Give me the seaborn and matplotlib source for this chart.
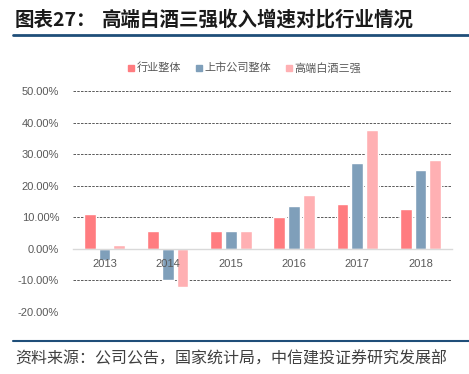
import pandas as pd
import seaborn as sns
import matplotlib.pyplot as plt
from matplotlib.lines import Line2D

years = ["2013", "2014", "2015", "2016", "2017", "2018"]
industry = [11.1, 5.5, 5.6, 10.0, 14.2, 12.7]
listed = [-3.5, -9.8, 5.7, 13.6, 27.1, 25.0]
top3 = [1.3, -12.0, 5.5, 17.0, 37.7, 28.2]
series = ["行业整体", "上市公司整体", "高端白酒三强"]
colors = ["#FF7C80", "#7F9FBA", "#FFB0B3"]

df = pd.DataFrame({"year": years * 3,
                   "value": industry + listed + top3,
                   "series": [s for s in series for _ in years]})

sns.set_style("white")
plt.rcParams['font.family'] = ['Noto Sans CJK SC', 'DejaVu Sans']

fig = plt.figure(figsize=(4.69, 3.74), dpi=100)
ax = fig.add_axes([73 / 469, 62 / 374, 379 / 469, 221 / 374])
sns.barplot(data=df, x="year", y="value", hue="series", palette=colors,
            width=0.7, gap=0.2, ax=ax, legend=False, saturation=1)

# spine first: set_position resets the tick objects
for s in ["top", "right", "left"]:
    ax.spines[s].set_visible(False)
ax.spines["bottom"].set_position(("data", 0))
ax.spines["bottom"].set_color("#D9D9D9")
ax.spines["bottom"].set_linewidth(1)

ax.set_ylim(-20, 50)
ax.set_yticks(range(-20, 51, 10))
ax.set_yticklabels([f"{v:.2f}%" for v in range(-20, 51, 10)],
                   family="Liberation Sans", fontsize=8, color="#595959")
ax.set_xticks(range(len(years)))
ax.set_xticklabels(years, family="Liberation Sans", fontsize=8, color="#595959")
ax.set_xlabel("")
ax.set_ylabel("")
ax.tick_params(length=0)
ax.tick_params(axis="x", pad=7)
ax.tick_params(axis="y", pad=10)
ax.xaxis.set_zorder(5)
for v in range(-20, 51, 10):
    if v != 0:
        ax.axhline(v, color="#404040", lw=0.6, ls=(0, (3, 1.5)), zorder=0)

handles = [Line2D([], [], marker="s", ls="", color=c, markersize=4) for c in colors]
fig.legend(handles, series, loc="center", bbox_to_anchor=(0.52, 1 - 68 / 374),
           ncol=3, frameon=False, fontsize=8, labelcolor="#595959",
           handletextpad=0.1, columnspacing=1.2, handlelength=0.8)

fig.text(15 / 469, 1 - 20 / 374, "图表27：", fontsize=14, weight="bold",
         va="center", color="#1a1a1a")
fig.text(102 / 469, 1 - 20 / 374, "高端白酒三强收入增速对比行业情况", fontsize=14,
         weight="bold", va="center", color="#1a1a1a")
fig.add_artist(Line2D([13 / 469, 1], [1 - 34.5 / 374] * 2, color="#1F4E79", lw=2))
fig.add_artist(Line2D([13 / 469, 1], [1 - 341 / 374] * 2, color="#1F4E79", lw=1.5))
fig.text(15 / 469, 1 - 359 / 374, "资料来源：公司公告，国家统计局，中信建投证券研究发展部",
         fontsize=11.5, style="italic", va="center", color="#404040")

fig.savefig("out.png", dpi=100)
